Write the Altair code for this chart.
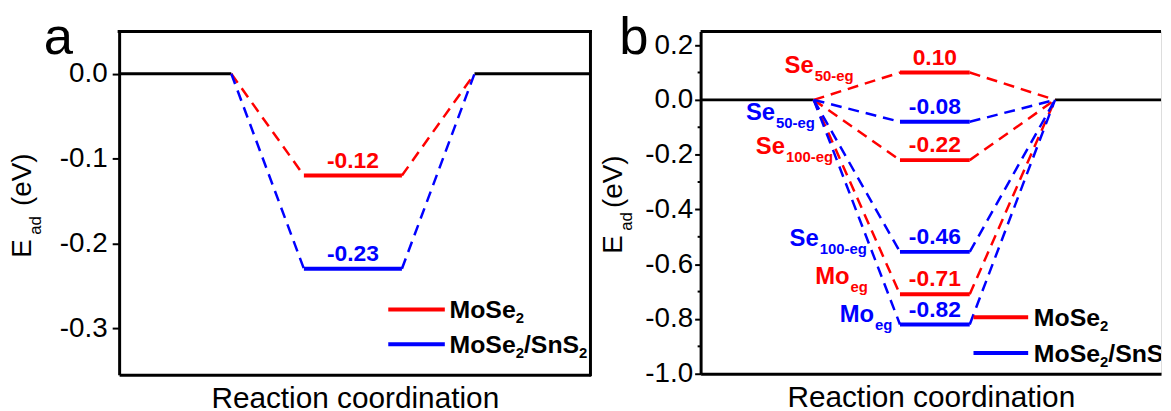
import altair as alt
import pandas as pd

# ---------------- data ----------------
A_SERIES = ["MoSe2", "MoSe2/SnS2"]
A_VALUES = [-0.12, -0.23]
A_LABELS = ["-0.12", "-0.23"]

B_SITES = ["Se50-eg", "Se100-eg", "Mo_eg"]
B_MOSE2 = [0.10, -0.22, -0.71]
B_MOSE2_LABELS = ["0.10", "-0.22", "-0.71"]
B_SNS2_DRAWN = [-0.08, -0.555, -0.82]     # where the levels are drawn in the picture
B_SNS2_LABELS = ["-0.08", "-0.46", "-0.82"]

A_YTICKS = [0.0, -0.1, -0.2, -0.3]
B_YTICKS = [0.2, 0.0, -0.2, -0.4, -0.6, -0.8, -1.0]
B_YMINOR = [0.1, -0.1, -0.3, -0.5, -0.7, -0.9]

# ---------------- styling / layout ----------------
FONT = "Liberation Sans"
RED, BLUE, BLACK = "#FF0000", "#0000FF", "#000000"
PX = 47.5  # px per x unit
LEG_FS, LEG_SUB_FS = 25, 15

A_W, A_H = 475, 346
A_XDOM, A_YDOM = [0, 10], [-0.355, 0.05]
A_GEOM = dict(lj=2.38, l0=3.92, l1=6.0, rj=7.54)

B_W, B_H = 464, 345
B_XDOM, B_YDOM = [0, B_W / PX], [-1.0, 0.25]
B_GEOM = dict(lj=2.40, l0=4.23, l1=5.71, rj=7.52)

LABEL_EXPR = "(datum.value < 0 ? '-' : '') + format(abs(datum.value), '.1f')"


def bold_w(s, size):
    w = {'M': .833, 'o': .611, 'S': .667, 'e': .556, '/': .278, 'n': .611}
    return sum(w.get(ch, .556) for ch in s) * size


def make_panel(letter, W, H, xdom, ydom, yticks, geom, levels, labels, colors,
               legend_pos, site_labels, title_pos, letter_pos, tick_size, label_pad,
               minor=None, right_border=True, clip_legend=False, label_size=23):
    xaxis = alt.Axis(labels=False, ticks=False, grid=False, domain=True,
                     domainColor=BLACK, domainWidth=3, title="Reaction coordination",
                     titleFontSize=30, titleFont=FONT, titleFontWeight="normal",
                     titleColor=BLACK, titlePadding=9)
    yaxis = alt.Axis(values=yticks, labelExpr=LABEL_EXPR, labelFontSize=28,
                     labelFont=FONT, labelColor=BLACK, tickSize=tick_size, tickWidth=2,
                     tickColor=BLACK, labelPadding=label_pad, domain=True,
                     domainColor=BLACK, domainWidth=3, grid=False, title=None)
    xs = alt.Scale(domain=xdom, nice=False, zero=False)
    ys = alt.Scale(domain=ydom, nice=False, zero=False)

    def X(f="x"):
        return alt.X(f"{f}:Q", scale=xs, axis=xaxis)

    def Y(f="y"):
        return alt.Y(f"{f}:Q", scale=ys, axis=yaxis)

    col = alt.Color("c:N", scale=None)

    zero = pd.DataFrame({"x": [xdom[0], geom["rj"]], "x2": [geom["lj"], xdom[1]], "y": [0.0, 0.0]})
    conn, lev, lab = [], [], []
    for i, (v, t, c) in enumerate(zip(levels, labels, colors)):
        conn += [dict(id=f"L{i}", o=0, x=geom["lj"], y=0.0, c=c),
                 dict(id=f"L{i}", o=1, x=geom["l0"], y=v, c=c),
                 dict(id=f"R{i}", o=0, x=geom["l1"], y=v, c=c),
                 dict(id=f"R{i}", o=1, x=geom["rj"], y=0.0, c=c)]
        lev.append(dict(x=geom["l0"], x2=geom["l1"], y=v, c=c))
        lab.append(dict(x=(geom["l0"] + geom["l1"]) / 2, y=v, t=t, c=c))
    conn, lev, lab = pd.DataFrame(conn), pd.DataFrame(lev), pd.DataFrame(lab)

    layers = [
        alt.Chart(zero).mark_rule(strokeWidth=3, color=BLACK).encode(x=X(), x2="x2:Q", y=Y()),
        alt.Chart(conn).mark_line(strokeDash=[11, 7], strokeWidth=2.5).encode(
            x=X(), y=Y(), detail="id:N", order="o:Q", color=col),
        alt.Chart(lev).mark_rule(strokeWidth=4).encode(x=X(), x2="x2:Q", y=Y(), color=col),
        alt.Chart(lab).mark_text(dy=-8, baseline="alphabetic", fontWeight="bold",
                                 fontSize=label_size, font=FONT).encode(
            x=X(), y=Y(), text="t:N", color=col),
    ]

    # legend
    lx0, lx1, ltx, ly_red, ly_blue = legend_pos
    leg = pd.DataFrame({"x": [lx0, lx0], "x2": [lx1, lx1], "y": [ly_red, ly_blue], "c": [RED, BLUE]})
    layers.append(alt.Chart(leg).mark_rule(strokeWidth=4).encode(x=X(), x2="x2:Q", y=Y(), color=col))
    mains, subs = [], []
    for name, yy in zip(A_SERIES, [ly_red, ly_blue]):
        parts = name.replace("2", "|2|").strip("|").split("|")
        cx = ltx
        for p in parts:
            if p == "":
                continue
            if p == "2":
                subs.append(dict(x=cx, y=yy, t="2"))
                cx += bold_w("2", LEG_SUB_FS) / PX
            else:
                mains.append(dict(x=cx, y=yy, t=p))
                cx += bold_w(p, LEG_FS) / PX
    layers.append(alt.Chart(pd.DataFrame(mains)).mark_text(
        align="left", baseline="alphabetic", dy=9, fontSize=LEG_FS, fontWeight="bold",
        font=FONT, color=BLACK, clip=clip_legend).encode(x=X(), y=Y(), text="t:N"))
    layers.append(alt.Chart(pd.DataFrame(subs)).mark_text(
        align="left", baseline="alphabetic", dy=14, fontSize=LEG_SUB_FS, fontWeight="bold",
        font=FONT, color=BLACK, clip=clip_legend).encode(x=X(), y=Y(), text="t:N"))

    # site labels (main + subscript)
    if site_labels:
        sl = pd.DataFrame(site_labels, columns=["main", "sub", "x", "y", "c"])
        layers.append(alt.Chart(sl).mark_text(align="right", baseline="alphabetic", fontSize=24,
                                              fontWeight="bold", font=FONT).encode(
            x=X(), y=Y(), text="main:N", color=col))
        layers.append(alt.Chart(sl).mark_text(align="left", baseline="alphabetic", dy=8, dx=1,
                                              fontSize=15, fontWeight="bold", font=FONT).encode(
            x=X(), y=Y(), text="sub:N", color=col))

    # minor ticks
    if minor:
        layers.append(alt.Chart(pd.DataFrame({"y": minor})).mark_rule(strokeWidth=2, color=BLACK).encode(
            y=Y(), x=alt.value(-3), x2=alt.value(0)))

    # frame: top (and right)
    cap = "square" if right_border else "butt"
    layers.append(alt.Chart().mark_rule(strokeWidth=3, color=BLACK, strokeCap=cap).encode(
        x=alt.value(0), x2=alt.value(W), y=alt.value(0)))
    if right_border:
        layers.append(alt.Chart().mark_rule(strokeWidth=3, color=BLACK, strokeCap="square").encode(
            x=alt.value(W), y=alt.value(0), y2=alt.value(H)))

    # y title pieces (rotated)
    ex, ey, adx, ady, evy = title_pos
    layers.append(alt.Chart().mark_text(text="E", angle=270, align="left", baseline="alphabetic",
                                        fontSize=28, font=FONT, color=BLACK).encode(
        x=alt.value(ex), y=alt.value(ey)))
    layers.append(alt.Chart().mark_text(text="ad", angle=270, align="left", baseline="alphabetic",
                                        fontSize=17, font=FONT, color=BLACK).encode(
        x=alt.value(adx), y=alt.value(ady)))
    layers.append(alt.Chart().mark_text(text="(eV)", angle=270, align="left", baseline="alphabetic",
                                        fontSize=28, font=FONT, color=BLACK).encode(
        x=alt.value(ex), y=alt.value(evy)))

    # panel letter
    layers.append(alt.Chart().mark_text(text=letter, align="left", baseline="alphabetic",
                                        fontSize=53, font=FONT, color=BLACK).encode(
        x=alt.value(letter_pos[0]), y=alt.value(letter_pos[1])))

    return alt.layer(*layers).properties(width=W, height=H)


panel_a = make_panel(
    "a", A_W, A_H, A_XDOM, A_YDOM, A_YTICKS, A_GEOM,
    A_VALUES, A_LABELS, [RED, BLUE],
    legend_pos=(5.71, 6.91, 7.01, -0.278, -0.319),
    site_labels=None,
    title_pos=(-89, 228, -79, 205, 176),
    letter_pos=(-76, 23), tick_size=7, label_pad=5)

B_SITE_POS = [
    ("Se", "50-eg", 2.40, 0.098, RED),
    ("Se", "50-eg", 1.58, -0.072, BLUE),
    ("Se", "100-eg", 1.79, -0.199, RED),
    ("Se", "100-eg", 2.505, -0.533, BLUE),
    ("Mo", "eg", 3.16, -0.674, RED),
    ("Mo", "eg", 3.68, -0.812, BLUE),
]

panel_b = make_panel(
    "b", B_W, B_H, B_XDOM, B_YDOM, B_YTICKS, B_GEOM,
    B_MOSE2 + B_SNS2_DRAWN, B_MOSE2_LABELS + B_SNS2_LABELS, [RED] * 3 + [BLUE] * 3,
    legend_pos=(5.79, 6.95, 7.07, -0.7935, -0.924),
    site_labels=B_SITE_POS,
    title_pos=(-79, 224, -69, 201, 178),
    letter_pos=(-82, 23), tick_size=6, label_pad=2,
    minor=B_YMINOR, right_border=False, clip_legend=True)

chart = alt.hconcat(panel_a, panel_b, spacing=111, bounds="flush").properties(
    padding={"left": 0, "top": 2, "right": 0, "bottom": 0}
).configure_view(stroke=None).configure(font=FONT)

chart.save("out.html", embed_options={"renderer": "svg", "actions": False})
